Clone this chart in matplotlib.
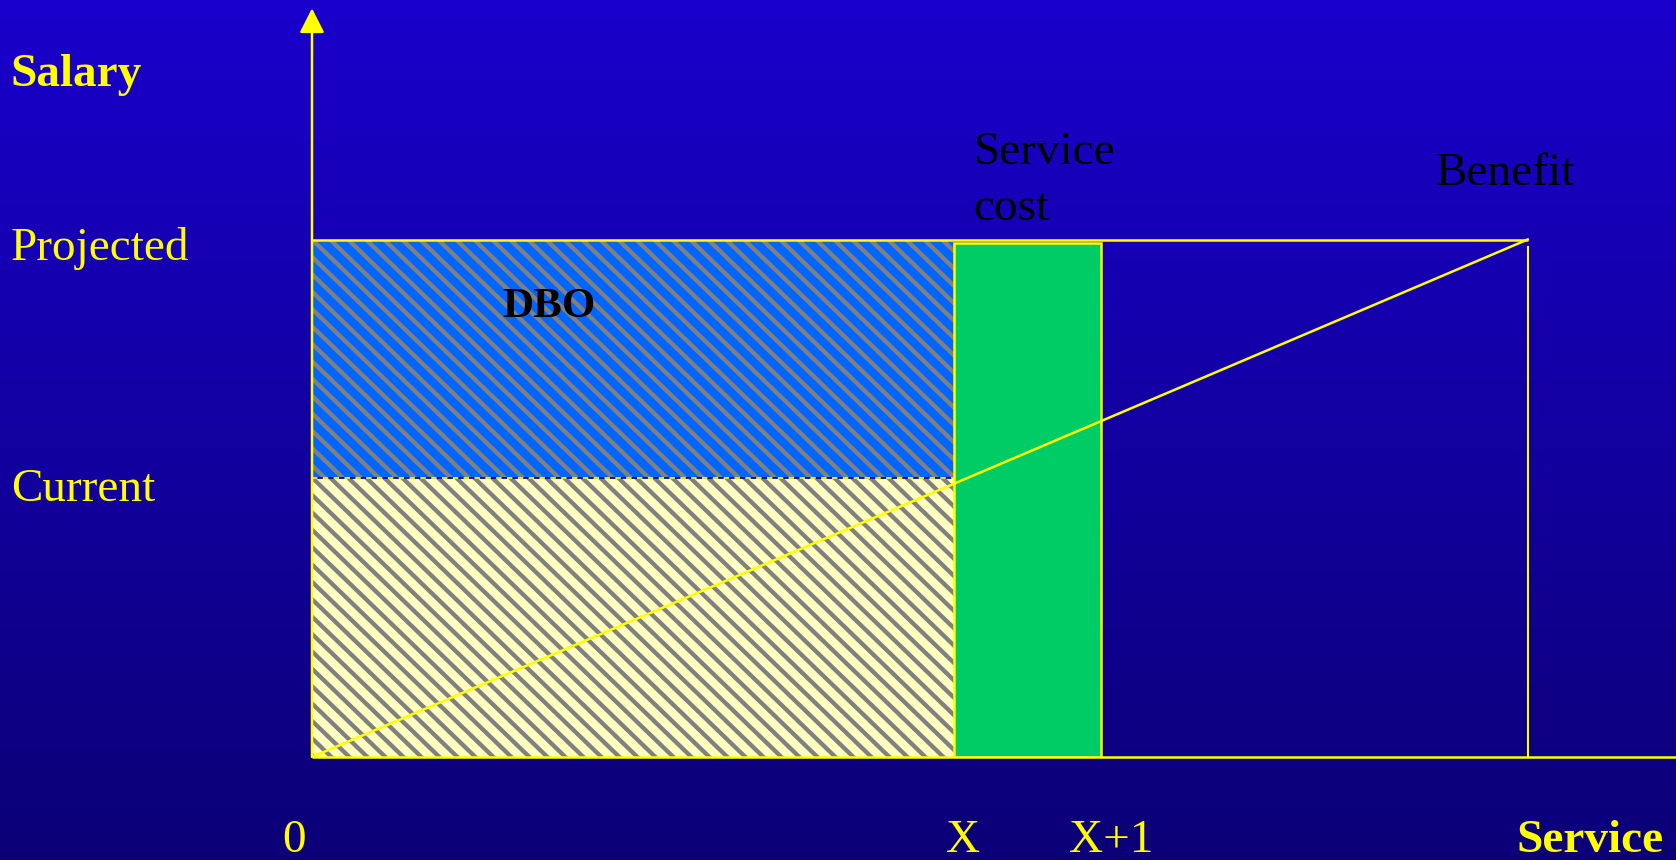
import numpy as np
import matplotlib
matplotlib.use("Agg")
import matplotlib.pyplot as plt
from matplotlib.patches import Rectangle
from matplotlib.collections import LineCollection
import matplotlib.transforms as mtransforms

# ---------------- data ----------------
service_ticks = ["0", "X", "X+1"]
service_values = [0.0, 4.37, 5.37]          # years of service
retirement_service = 8.27                    # service at retirement (benefit)
salary_labels = ["Current", "Projected"]
salary_values = [54.0, 100.0]               # salary levels
x_axis_label = "Service"
y_axis_label = "Salary"
dbo_label = "DBO"
service_cost_label = "Service\ncost"
benefit_label = "Benefit"

# ---------------- style ----------------
YELLOW = "#FFFF00"
GRAY = "#808080"
BLUE_FILL = "#0066FF"
CREAM_FILL = "#FFFFC0"
GREEN_FILL = "#00CC66"
TOP_BG = np.array([26, 0, 204]) / 255
BOT_BG = np.array([11, 0, 118]) / 255
SERIF = ["Liberation Serif", "DejaVu Serif"]
FS = 34
STRIPE_PERIOD_PX = 18.0      # horizontal period of stripes, pixels
STRIPE_ANGLE_DEG = 44.0      # stripe angle below horizontal
STRIPE_LW = 3.1

W, H = 1676, 860
fig = plt.figure(figsize=(W / 100, H / 100), dpi=100)

# background gradient
bg = fig.add_axes([0, 0, 1, 1])
t = np.linspace(0, 1, 256)[:, None, None]
grad = TOP_BG * (1 - t) + BOT_BG * t
grad = np.repeat(grad, 2, axis=1)
bg.imshow(grad, aspect="auto", extent=[0, 1, 0, 1], origin="upper")
bg.set_axis_off()

# main axes: origin at pixel (312, 757)
px_x, px_y = 147.0, 5.175
ox, oy = 312, 757
ax = fig.add_axes([ox / W, (H - oy) / H, (W - ox) / W, oy / H])
ax.set_xlim(0, (W - ox) / px_x)
ax.set_ylim(0, oy / px_y)
ax.set_axis_off()
ax.patch.set_alpha(0)

x0, xX, xX1 = service_values
current, projected = salary_values


def striped_rect(xa, ya, w, h, face):
    rect = Rectangle((xa, ya), w, h, facecolor=face, edgecolor="none",
                     lw=0, zorder=1)
    ax.add_patch(rect)
    wpx = w * px_x
    hpx = h * px_y
    ang = np.deg2rad(STRIPE_ANGLE_DEG)
    L = wpx + hpx + 50
    dxp, dyp = L * np.cos(ang), L * np.sin(ang)
    segs = []
    k = -int(hpx / np.tan(ang) / STRIPE_PERIOD_PX) - 3
    while k * STRIPE_PERIOD_PX < wpx + 5:
        xs = xa + k * STRIPE_PERIOD_PX / px_x
        segs.append([(xs, ya + h), (xs + dxp / px_x, ya + h - dyp / px_y)])
        k += 1
    lc = LineCollection(segs, colors=GRAY, linewidths=STRIPE_LW, zorder=1.5)
    ax.add_collection(lc)
    lc.set_clip_path(rect)


# accrued at current salary (cream striped)
striped_rect(x0, 0, xX - x0, current, CREAM_FILL)
# DBO (blue striped)
striped_rect(x0, current, xX - x0, projected - current, BLUE_FILL)

# dashed border between them
ax.plot([x0, xX], [current, current], color="#1000A0", lw=1.3, zorder=2)
ax.plot([x0, xX], [current, current], color=YELLOW, lw=1.3,
        ls=(0, (3, 3)), zorder=3)

# service cost box
ax.add_patch(Rectangle((xX, 0), xX1 - xX, projected - 0.7, facecolor=GREEN_FILL,
                       edgecolor=YELLOW, lw=1.8, zorder=2))

# projected salary line
ax.plot([x0, retirement_service], [projected, projected], color=YELLOW,
        lw=1.8, zorder=4, solid_capstyle="butt")
# benefit vertical
ax.plot([retirement_service, retirement_service], [0, projected * 0.985],
        color=YELLOW, lw=1.5, zorder=4)
# benefit accrual diagonal
ax.plot([x0, retirement_service], [0, projected], color=YELLOW, lw=1.8,
        zorder=5)

# axes lines
ymax = ax.get_ylim()[1]
xmax = ax.get_xlim()[1]
ax.plot([x0, xmax], [0, 0], color=YELLOW, lw=1.8, zorder=6, clip_on=False,
        solid_capstyle="butt")
ax.annotate("", xy=(x0, ymax - 1.6), xytext=(x0, 0),
            arrowprops=dict(arrowstyle="-|>,head_length=0.75,head_width=0.38",
                            mutation_scale=20, color=YELLOW, lw=1.8,
                            shrinkA=0, shrinkB=0),
            zorder=6, annotation_clip=False)

# ---------- text ----------
fig_x = mtransforms.blended_transform_factory(fig.transFigure, ax.transData)

ax.text(10 / W, 129.7, y_axis_label, transform=fig_x, fontsize=FS,
        fontweight="bold", color=YELLOW, family=SERIF, va="baseline", ha="left")
ax.text(11 / W, projected - 4.0, salary_labels[1], transform=fig_x, fontsize=FS,
        color=YELLOW, family=SERIF, va="baseline", ha="left")
ax.text(11 / W, current - 4.5, salary_labels[0], transform=fig_x, fontsize=FS,
        color=YELLOW, family=SERIF, va="baseline", ha="left")

tick_offsets = [-0.12, 0.06, 0.07]
for lab, xv, off in zip(service_ticks, service_values, tick_offsets):
    ax.text(xv + off, -18.4, lab, fontsize=FS, color=YELLOW, family=SERIF,
            ha="center", va="baseline", clip_on=False)
ax.text(1664 / W, -18.4, x_axis_label, transform=fig_x, fontsize=FS,
        fontweight="bold", color=YELLOW, family=SERIF, ha="right",
        va="baseline")

ax.text(1.61, 87.0, dbo_label, fontsize=31, fontweight="bold",
        color="black", family=SERIF, ha="center", va="center", zorder=7)
ax.text(xX + 0.13, 111.4, service_cost_label, fontsize=FS, color="black",
        family=SERIF, ha="left", va="center", linespacing=1.43, zorder=7)
ax.text(retirement_service - 0.15, 112.7, benefit_label, fontsize=FS,
        color="black", family=SERIF, ha="center", va="center", zorder=7)

fig.savefig("out.png", dpi=100)
